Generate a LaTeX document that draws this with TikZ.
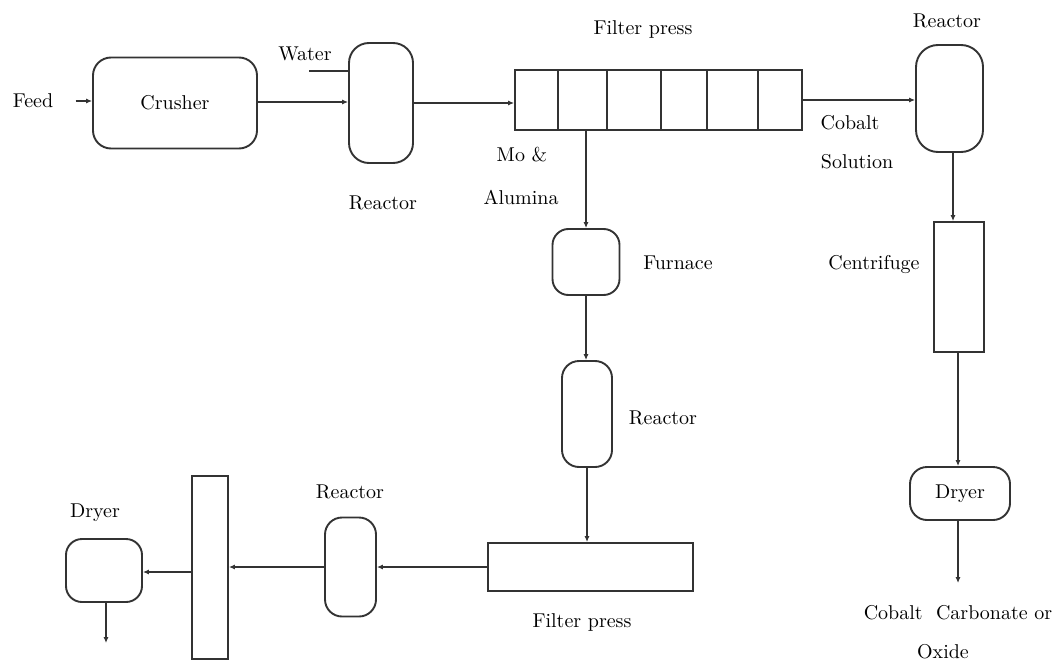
\documentclass[tikz,border=0pt]{standalone}
\usepackage{color}
\usepackage{tikz}
\usetikzlibrary{arrows.meta,calc,positioning}

\begin{document}
\begin{tikzpicture}
	[x=0.5pt,y=-0.5pt,
	vessel/.style={draw=black!80,line width=0.95pt,rounded corners=9pt,inner sep=0pt},
	unit/.style={draw=black!80,line width=0.95pt,inner sep=0pt},
	tag/.style={inner sep=0pt,font=\normalsize},
	pipe/.style={draw=black!80,line width=0.95pt},
	flow/.style={pipe,-{Latex[length=3pt,width=2.6pt]}}]

	\useasboundingbox (0,0) rectangle (1052,663);

	% top line
	\node[tag] (feed) at (33,101) {Feed};
	\node[vessel,minimum width=82pt,minimum height=45.5pt] (crusher) at (175,103) {Crusher};
	\node[vessel,minimum width=32pt,minimum height=60pt,rounded corners=10pt] (r1) at (381,103) {};
	\node[tag] (r1lab) at (383,203) {Reactor};
	\node[tag] (water) at (305,54) {Water};
	\coordinate (waterin) at (309,71);
	\node[unit,minimum width=143.5pt,minimum height=30pt] (fp1) at (658.5,100) {};
	\node[tag] (fp1lab) at (643,30) {Filter press};
	\node[vessel,minimum width=33.5pt,minimum height=53.5pt,rounded corners=11pt] (r2) at (949.5,98.5) {};
	\node[tag] (r2lab) at (947,21) {Reactor};
	\node[tag] (mo) at (522,155) {Mo \&};
	\node[tag] (alu) at (521,197) {Alumina};
	\node[tag] (cob) at (850,123) {Cobalt};
	\node[tag] (sol) at (857,162) {Solution};

	\foreach \dx in {558,607,661,707,758}
	\draw[pipe] (\dx,0 |- fp1.north) -- (\dx,0 |- fp1.south);

	\draw[flow] ([xshift=11pt]feed.east) -- (feed.east -| crusher.west);
	\draw[flow] (crusher.east |- 0,102) -- (r1.west |- 0,102);
	\draw[pipe] (waterin) -- (waterin -| r1.west);
	\draw[flow] (r1.east) -- (r1.east -| fp1.west);
	\draw[flow] (fp1.east) -- (fp1.east -| r2.west);

	% middle line
	\node[vessel,minimum width=33.5pt,minimum height=33pt,rounded corners=8pt] (furn) at (586,262) {};
	\node[tag] (furnlab) at (678,263) {Furnace};
	\node[vessel,minimum width=25pt,minimum height=53pt,rounded corners=8.5pt] (r3) at (587,414) {};
	\node[tag] (r3lab) at (663,418) {Reactor};
	\node[unit,minimum width=102.5pt,minimum height=24pt] (fp2) at (590.5,567) {};
	\node[tag] (fp2lab) at (582,622) {Filter press};

	\draw[flow] (fp1.south -| furn) -- (furn.north);
	\draw[flow] (furn.south) -- (furn.south |- r3.north);
	\draw[flow] (r3.south) -- (r3.south |- fp2.north);

	% bottom line
	\node[vessel,minimum width=25.5pt,minimum height=49.5pt,rounded corners=8.5pt] (r4) at (350.5,567) {};
	\node[tag] (r4lab) at (350,492) {Reactor};
	\node[unit,minimum width=18pt,minimum height=91.5pt] (col) at (210,567.5) {};
	\node[vessel,minimum width=38pt,minimum height=31.5pt,rounded corners=8pt] (dry1) at (104,570.5) {};
	\node[tag] (dry1lab) at (95,513) {Dryer};
	\coordinate (out1) at (106,643);

	\draw[flow] (fp2.west |- r4) -- (r4.east);
	\draw[flow] (r4.west) -- (r4.west -| col.east);
	\draw[flow] (col.west |- 0,572) -- (dry1.east |- 0,572);
	\draw[flow] (out1 |- dry1.south) -- (out1);

	% right line
	\node[unit,minimum width=25pt,minimum height=65pt] (cent) at (959,287) {};
	\node[tag] (centlab) at (874,265) {Centrifuge};
	\node[vessel,minimum width=50pt,minimum height=26.5pt,rounded corners=8.5pt] (dry2) at (960,493.5) {Dryer};
	\node[tag] (prod) at (958,613) {Cobalt\ \ Carbonate or};
	\node[tag] (oxide) at (943,652) {Oxide};
	\coordinate (out2) at (958,583);

	\draw[flow] (953,0 |- r2.south) -- (953,0 |- cent.north);
	\draw[flow] (out2 |- cent.south) -- (out2 |- dry2.north);
	\draw[flow] (out2 |- dry2.south) -- (out2);
\end{tikzpicture}
\end{document}
